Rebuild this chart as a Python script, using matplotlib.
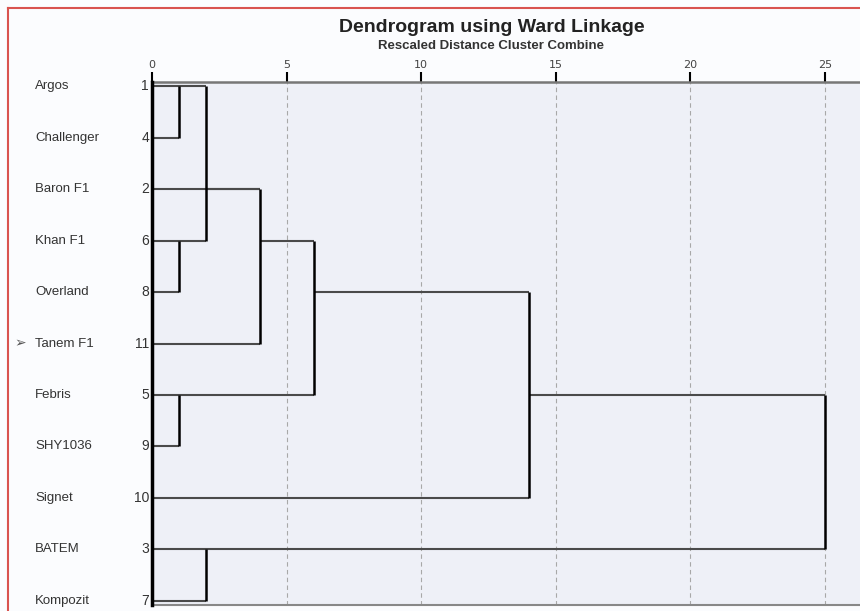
import matplotlib.pyplot as plt
from matplotlib.lines import Line2D
from matplotlib.transforms import blended_transform_factory

# cases in dendrogram order (top to bottom)
names = ['Argos', 'Challenger', 'Baron F1', 'Khan F1', 'Overland', 'Tanem F1',
         'Febris', 'SHY1036', 'Signet', 'BATEM', 'Kompozit']
case_nums = ['1', '4', '2', '6', '8', '11', '5', '9', '10', '3', '7']

# merges: children (leaf row index or 'mN'), rescaled distance, row where the new cluster line leaves
merge_children = [[0, 1], [3, 4], [6, 7], [9, 10],
                  ['m0', 'm1'], ['m4', 2, 5], ['m5', 'm2'], ['m6', 8], ['m7', 'm3']]
merge_dist = [1, 1, 1, 2, 2, 4, 6, 14, 25]
merge_row = [0, 3, 6, 9, 2, 3, 4, 6, None]

fig = plt.figure(figsize=(8.6, 6.11), dpi=100, facecolor='#fbfcfe')
ax = fig.add_axes([152 / 860, 1 - 605 / 611, 1 - 152 / 860, (605 - 82) / 611])
ax.set_facecolor('#eef0f7')

def node_pos(c):
    # row and distance where the child's line starts
    if isinstance(c, str):
        i = int(c[1:])
        return merge_row[i], merge_dist[i]
    return c, 0

for kids, d in zip(merge_children, merge_dist):
    rows = []
    for c in kids:
        r, d0 = node_pos(c)
        rows.append(r)
        ax.plot([d0, d], [r, r], color='#4a4a4a', lw=1.5, solid_capstyle='butt', zorder=3)
    ax.plot([d, d], [min(rows), max(rows)], color='black', lw=1.8, solid_capstyle='butt', zorder=4)

ax.set_xlim(0, (860 - 152) / ((825 - 152) / 25))
ax.set_ylim(10.08, -0.08)
ax.set_xticks([0, 5, 10, 15, 20, 25])
ax.xaxis.tick_top()
ax.tick_params(axis='x', direction='out', length=7, width=1.5, color='black',
               labelsize=8, labelcolor='#444444', pad=2)
ax.set_yticks([])
for g in [5, 10, 15, 20, 25]:
    ax.axvline(g, color='#a8a8a8', lw=0.8, ls=(0, (4, 3)), zorder=1)

ax.spines['right'].set_visible(False)
ax.spines['left'].set_color('black')
ax.spines['left'].set_linewidth(2.5)
ax.spines['left'].set_zorder(5)
ax.spines['top'].set_color('#777777')
ax.spines['top'].set_linewidth(1.8)
ax.spines['bottom'].set_color('#888888')
ax.spines['bottom'].set_linewidth(1.5)

# row labels
tr = blended_transform_factory(fig.transFigure, ax.transData)
for i, (n, c) in enumerate(zip(names, case_nums)):
    fig.text(35 / 860, i, n, transform=tr, ha='left', va='center', fontsize=9.5,
             color='#333333', family='Liberation Sans')
    fig.text(149 / 860, i, c, transform=tr, ha='right', va='center', fontsize=10,
             color='#333333', family='Liberation Sans')
fig.text(14 / 860, names.index('Tanem F1'), '➢', transform=tr, ha='left', va='center',
         fontsize=10, color='#555555')

fig.text(492 / 860, 1 - 27 / 611, 'Dendrogram using Ward Linkage', ha='center', va='center',
         fontsize=14, fontweight='bold', color='#222222', family='Liberation Sans')
fig.text(491 / 860, 1 - 46 / 611, 'Rescaled Distance Cluster Combine', ha='center', va='center',
         fontsize=9.5, fontweight='bold', color='#333333', family='Liberation Sans')

# red frame around the chart
fig.add_artist(Line2D([8 / 860, 1.0], [1 - 8 / 611] * 2, transform=fig.transFigure,
                      color='#d9534f', lw=1.5))
fig.add_artist(Line2D([8 / 860] * 2, [0, 1 - 8 / 611], transform=fig.transFigure,
                      color='#d9534f', lw=1.5))

fig.savefig('out.png', dpi=100, facecolor=fig.get_facecolor())
